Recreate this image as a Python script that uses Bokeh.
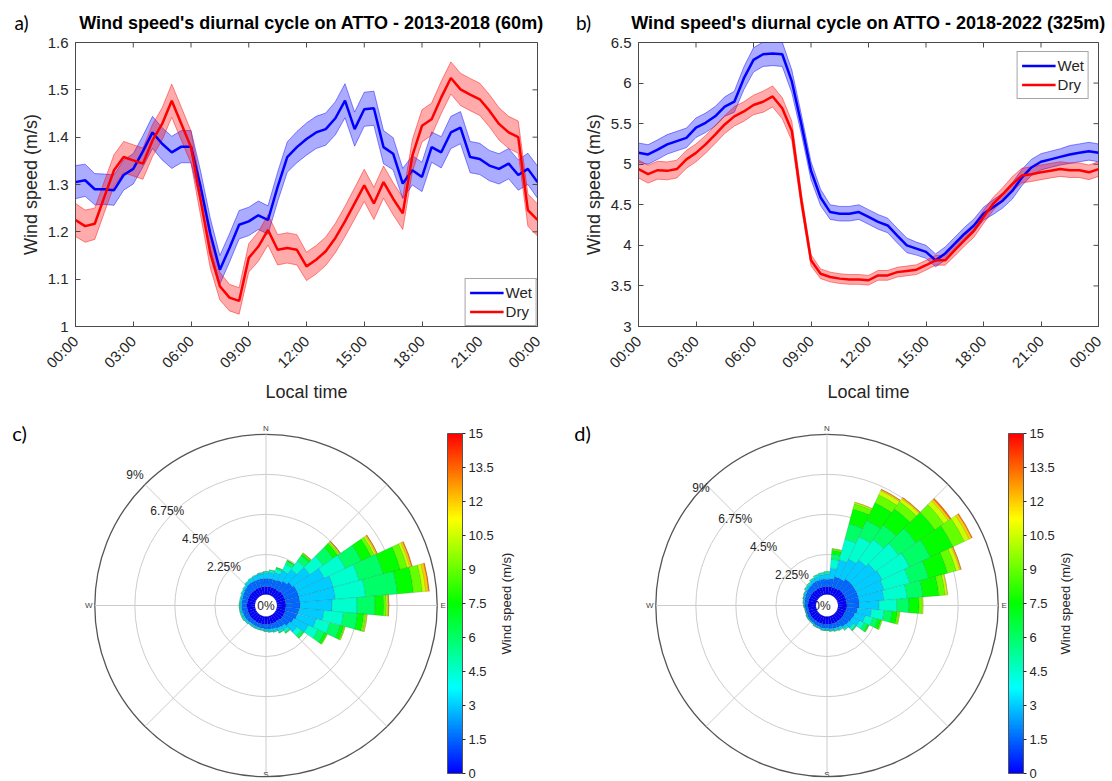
import math, colorsys
from bokeh.plotting import figure
from bokeh.models import (Range1d, FixedTicker, Label, Legend, LegendItem,
                          ColorBar, LinearColorMapper, ColumnDataSource)
from bokeh.layouts import column, row
from bokeh.embed import file_html
from bokeh.resources import INLINE

# ---------------- data ----------------
hours = [h * 0.5 for h in range(49)]          # 00:00 ... 24:00 every 30 min
time_ticks = [0, 3, 6, 9, 12, 15, 18, 21, 24]
time_labels = ["00:00", "03:00", "06:00", "09:00", "12:00", "15:00", "18:00", "21:00", "00:00"]

wet_a = [1.305, 1.309, 1.290, 1.290, 1.288, 1.320, 1.333,
         1.370, 1.410, 1.386, 1.368, 1.380, 1.380, 1.295,
         1.197, 1.120, 1.166, 1.215, 1.222, 1.235, 1.225,
         1.295, 1.358, 1.379, 1.396, 1.410, 1.417, 1.440,
         1.477, 1.417, 1.459, 1.461, 1.379, 1.365, 1.302,
         1.330, 1.316, 1.379, 1.368, 1.410, 1.420, 1.358,
         1.354, 1.340, 1.333, 1.344, 1.320, 1.333, 1.305]
wet_a_err = [0.035, 0.034, 0.033, 0.032, 0.032, 0.032, 0.032,
             0.033, 0.034, 0.034, 0.034, 0.034, 0.034, 0.033,
             0.032, 0.030, 0.030, 0.030, 0.030, 0.030, 0.030,
             0.031, 0.032, 0.033, 0.034, 0.034, 0.034, 0.035,
             0.036, 0.036, 0.036, 0.036, 0.035, 0.034, 0.032,
             0.031, 0.031, 0.032, 0.033, 0.034, 0.034, 0.033,
             0.033, 0.032, 0.032, 0.032, 0.032, 0.033, 0.034]
dry_a = [1.225, 1.212, 1.217, 1.274, 1.330, 1.358, 1.351,
         1.344, 1.393, 1.428, 1.477, 1.428, 1.379, 1.267,
         1.155, 1.085, 1.061, 1.054, 1.145, 1.169, 1.204,
         1.162, 1.166, 1.162, 1.127, 1.141, 1.159, 1.187,
         1.222, 1.260, 1.298, 1.260, 1.305, 1.270, 1.239,
         1.361, 1.424, 1.438, 1.484, 1.525, 1.501, 1.490,
         1.480, 1.456, 1.428, 1.410, 1.400, 1.246, 1.225]
dry_a_err = [0.035, 0.034, 0.033, 0.033, 0.033, 0.033, 0.033,
             0.033, 0.034, 0.034, 0.035, 0.035, 0.034, 0.033,
             0.031, 0.029, 0.028, 0.028, 0.030, 0.031, 0.032,
             0.032, 0.032, 0.032, 0.030, 0.030, 0.030, 0.031,
             0.032, 0.033, 0.034, 0.034, 0.034, 0.034, 0.034,
             0.034, 0.034, 0.034, 0.034, 0.034, 0.034, 0.034,
             0.034, 0.034, 0.034, 0.034, 0.034, 0.034, 0.034]

wet_b = [5.142, 5.120, 5.180, 5.245, 5.285, 5.325, 5.450,
         5.510, 5.590, 5.710, 5.770, 6.060, 6.285, 6.355,
         6.365, 6.355, 6.020, 5.490, 4.920, 4.590, 4.410,
         4.390, 4.390, 4.410, 4.350, 4.290, 4.245, 4.120,
         4.000, 3.960, 3.920, 3.815, 3.900, 4.020, 4.140,
         4.245, 4.390, 4.470, 4.550, 4.670, 4.835, 4.960,
         5.030, 5.060, 5.090, 5.120, 5.140, 5.160, 5.140]
wet_b_err = [0.12, 0.12, 0.12, 0.12, 0.12, 0.12, 0.12,
             0.12, 0.12, 0.12, 0.13, 0.14, 0.15, 0.15,
             0.15, 0.15, 0.14, 0.12, 0.11, 0.10, 0.09,
             0.09, 0.09, 0.09, 0.09, 0.09, 0.09, 0.09,
             0.09, 0.08, 0.08, 0.08, 0.08, 0.08, 0.08,
             0.08, 0.08, 0.09, 0.09, 0.10, 0.10, 0.10,
             0.10, 0.10, 0.10, 0.11, 0.11, 0.11, 0.11]
dry_b = [4.940, 4.877, 4.926, 4.918, 4.940, 5.060, 5.140,
         5.245, 5.366, 5.490, 5.590, 5.650, 5.730, 5.770,
         5.835, 5.690, 5.410, 4.550, 3.816, 3.650, 3.610,
         3.590, 3.580, 3.580, 3.570, 3.630, 3.630, 3.670,
         3.685, 3.700, 3.755, 3.816, 3.816, 3.940, 4.060,
         4.180, 4.350, 4.510, 4.630, 4.755, 4.860, 4.877,
         4.900, 4.920, 4.940, 4.926, 4.926, 4.900, 4.940]
dry_b_err = [0.11, 0.11, 0.11, 0.11, 0.11, 0.11, 0.11,
             0.11, 0.11, 0.11, 0.12, 0.12, 0.12, 0.13,
             0.13, 0.13, 0.12, 0.09, 0.07, 0.06, 0.06,
             0.06, 0.06, 0.06, 0.06, 0.06, 0.06, 0.06,
             0.06, 0.06, 0.06, 0.06, 0.06, 0.07, 0.07,
             0.08, 0.08, 0.08, 0.08, 0.09, 0.09, 0.09,
             0.09, 0.09, 0.09, 0.09, 0.09, 0.09, 0.09]

a_yticks = [1, 1.1, 1.2, 1.3, 1.4, 1.5, 1.6]
b_yticks = [3, 3.5, 4, 4.5, 5, 5.5, 6, 6.5]

# wind roses: frequency (%) per direction sector (rows) and speed bin (columns)
directions = [0, 10, 20, 30, 40, 50, 60, 70, 80, 90, 100, 110,
              120, 130, 140, 150, 160, 170, 180, 190, 200, 210, 220, 230,
              240, 250, 260, 270, 280, 290, 300, 310, 320, 330, 340, 350]
speed_edges = [0, 1.5, 3, 4.5, 6, 7.5, 9, 10.5, 12, 13.5, 15]

c_freq = [
    [0.45, 0.45, 0.30, 0.08, 0.02],
    [0.45, 0.45, 0.35, 0.12, 0.03],
    [0.45, 0.45, 0.40, 0.20, 0.08, 0.02],
    [0.45, 0.50, 0.60, 0.40, 0.18, 0.05, 0.02],
    [0.45, 0.60, 0.80, 0.60, 0.35, 0.12, 0.05, 0.02, 0.01],
    [0.50, 0.70, 1.20, 0.90, 0.70, 0.30, 0.10, 0.05, 0.03, 0.02],
    [0.50, 0.80, 1.70, 1.30, 1.00, 0.60, 0.20, 0.10, 0.07, 0.03],
    [0.50, 0.80, 2.00, 1.50, 1.40, 1.00, 0.40, 0.15, 0.10, 0.05],
    [0.50, 0.80, 2.00, 1.70, 1.80, 0.90, 0.50, 0.20, 0.15, 0.05],
    [0.50, 0.80, 1.80, 1.40, 1.00, 0.50, 0.15, 0.08, 0.05, 0.02],
    [0.50, 0.75, 1.40, 1.10, 0.80, 0.35, 0.12, 0.05, 0.03],
    [0.50, 0.70, 1.10, 0.80, 0.60, 0.20, 0.07, 0.03],
    [0.50, 0.60, 0.90, 0.60, 0.40, 0.15, 0.05],
    [0.50, 0.50, 0.50, 0.30, 0.15, 0.05],
    [0.45, 0.40, 0.25, 0.12, 0.06, 0.02],
    [0.45, 0.35, 0.18, 0.08, 0.03, 0.01],
    [0.45, 0.30, 0.13, 0.05, 0.02],
    [0.45, 0.27, 0.12, 0.05, 0.01],
    [0.45, 0.25, 0.10, 0.04, 0.01],
    [0.45, 0.22, 0.08, 0.04, 0.01],
    [0.45, 0.22, 0.08, 0.04, 0.01],
    [0.45, 0.22, 0.09, 0.03, 0.01],
    [0.45, 0.22, 0.09, 0.03, 0.01],
    [0.45, 0.25, 0.10, 0.04, 0.01],
    [0.45, 0.28, 0.10, 0.05, 0.02],
    [0.45, 0.28, 0.10, 0.05, 0.02],
    [0.45, 0.30, 0.09, 0.04, 0.02],
    [0.45, 0.30, 0.10, 0.04, 0.01],
    [0.45, 0.30, 0.10, 0.05],
    [0.45, 0.32, 0.09, 0.04],
    [0.45, 0.35, 0.10, 0.05],
    [0.45, 0.40, 0.10, 0.05],
    [0.45, 0.45, 0.15, 0.05],
    [0.45, 0.45, 0.20, 0.05],
    [0.45, 0.45, 0.25, 0.05],
    [0.45, 0.45, 0.28, 0.06, 0.01],
]

d_freq = [
    [0.45, 0.40, 0.30, 0.10, 0.05],
    [0.45, 0.45, 0.60, 0.50, 0.30, 0.20, 0.08, 0.02],
    [0.45, 0.60, 1.00, 1.20, 0.90, 0.85, 0.30, 0.08, 0.02],
    [0.45, 0.60, 1.20, 1.40, 1.00, 1.10, 0.50, 0.25, 0.07, 0.03],
    [0.50, 0.70, 1.30, 1.40, 1.00, 1.10, 0.50, 0.20, 0.07, 0.03],
    [0.50, 0.70, 1.50, 1.60, 1.20, 1.30, 0.60, 0.30, 0.12, 0.08],
    [0.50, 0.70, 1.60, 1.70, 1.30, 1.40, 0.70, 0.30, 0.15, 0.05],
    [0.50, 0.70, 1.50, 1.50, 1.10, 1.10, 0.50, 0.20, 0.07, 0.03],
    [0.50, 0.70, 1.40, 1.30, 0.90, 0.90, 0.35, 0.12, 0.03],
    [0.50, 0.70, 1.10, 1.00, 0.70, 0.55, 0.20, 0.05],
    [0.50, 0.60, 0.80, 0.70, 0.45, 0.30, 0.12, 0.03],
    [0.45, 0.55, 0.60, 0.45, 0.30, 0.18, 0.07],
    [0.45, 0.50, 0.45, 0.30, 0.20, 0.08, 0.02],
    [0.45, 0.45, 0.28, 0.14, 0.06, 0.02],
    [0.45, 0.40, 0.15, 0.07, 0.03],
    [0.45, 0.30, 0.12, 0.05, 0.03],
    [0.45, 0.28, 0.10, 0.05, 0.02],
    [0.45, 0.25, 0.10, 0.04, 0.01],
    [0.45, 0.22, 0.09, 0.03, 0.01],
    [0.45, 0.22, 0.09, 0.03, 0.01],
    [0.45, 0.20, 0.07, 0.02, 0.01],
    [0.45, 0.20, 0.07, 0.02, 0.01],
    [0.45, 0.17, 0.05, 0.02, 0.01],
    [0.45, 0.17, 0.05, 0.02, 0.01],
    [0.45, 0.17, 0.05, 0.02, 0.01],
    [0.45, 0.14, 0.04, 0.01, 0.01],
    [0.45, 0.14, 0.04, 0.01, 0.01],
    [0.45, 0.17, 0.05, 0.02, 0.01],
    [0.45, 0.20, 0.07, 0.02, 0.01],
    [0.45, 0.24, 0.08, 0.02, 0.01],
    [0.45, 0.27, 0.09, 0.03, 0.01],
    [0.45, 0.32, 0.12, 0.05, 0.01],
    [0.45, 0.35, 0.13, 0.06, 0.01],
    [0.45, 0.40, 0.17, 0.07, 0.01],
    [0.45, 0.42, 0.22, 0.09, 0.02],
    [0.45, 0.43, 0.25, 0.10, 0.02],
]

ring_pct = [2.25, 4.5, 6.75, 9]
ring_labels = ["2.25%", "4.5%", "6.75%", "9%"]
cbar_ticks = [0, 1.5, 3, 4.5, 6, 7.5, 9, 10.5, 12, 13.5, 15]

# ---------------- style ----------------
FONT = "Liberation Sans"
TAGFONT = "Lato"
AX = "#262626"
AXLINE = "#4a4a4a"
BLUE = "#0000ff"
RED = "#ff0000"
GRID = "#cccccc"
HEAD_H, MAIN_H, ROSE_H = 33, 372, 375

jet = []
for i in range(256):
    r, g, b = colorsys.hsv_to_rgb((240 - 240 * i / 255) / 360, 1, 1)
    jet.append("#%02x%02x%02x" % (round(r * 255), round(g * 255), round(b * 255)))
bin_colors = [jet[int(round(v / 15 * 255))] for v in speed_edges[:-1]]


def style_axis(ax, ticks, labels):
    ax.ticker = FixedTicker(ticks=ticks)
    ax.major_label_overrides = {t: l for t, l in zip(ticks, labels)}
    ax.major_tick_in = 5
    ax.major_tick_out = 0
    ax.minor_tick_line_color = None
    ax.axis_line_color = AXLINE
    ax.major_tick_line_color = AXLINE
    ax.major_label_text_font = FONT
    ax.major_label_text_font_size = "15px"
    ax.major_label_text_color = AX
    ax.axis_label_text_font = FONT
    ax.axis_label_text_font_size = "18px"
    ax.axis_label_text_font_style = "normal"
    ax.axis_label_text_color = AX


def header(width, tag, tag_x, title, title_x):
    p = figure(width=width, height=HEAD_H, output_backend="svg", toolbar_location=None, title=None,
               x_range=Range1d(0, width), y_range=Range1d(0, HEAD_H),
               x_axis_location=None, y_axis_location=None, min_border=0,
               outline_line_color=None, background_fill_color="white", border_fill_color="white")
    p.grid.visible = False
    p.add_layout(Label(x=tag_x, y=HEAD_H - 22, text=tag, text_align="center", text_baseline="middle",
                       text_font=TAGFONT, text_font_size="19px", text_color="#000000"))
    p.add_layout(Label(x=title_x, y=HEAD_H - 22, text=title, text_align="center",
                       text_baseline="middle", text_font=FONT, text_font_style="bold",
                       text_font_size="18px", text_color="#000000"))
    return p


def ts_panel(wet, wet_err, dry, dry_err, yticks, width, ml, mr, leg_loc, leg_margin):
    MT = 42 - HEAD_H
    MB = 78
    p = figure(width=width, height=MAIN_H, output_backend="svg", toolbar_location=None, title=None,
               x_range=Range1d(0, 24), y_range=Range1d(yticks[0], yticks[-1]),
               min_border_left=ml, min_border_right=mr, min_border_top=MT, min_border_bottom=MB,
               background_fill_color="white", border_fill_color="white")
    p.grid.visible = False
    p.outline_line_color = AXLINE

    src = ColumnDataSource(dict(
        t=hours, wet=wet, dry=dry,
        wet_lo=[v - e for v, e in zip(wet, wet_err)], wet_hi=[v + e for v, e in zip(wet, wet_err)],
        dry_lo=[v - e for v, e in zip(dry, dry_err)], dry_hi=[v + e for v, e in zip(dry, dry_err)]))
    for key, col in (("wet", BLUE), ("dry", RED)):
        p.varea(x="t", y1=key + "_lo", y2=key + "_hi", source=src, fill_color=col, fill_alpha=0.33)
        p.line("t", key + "_lo", source=src, line_color=col, line_alpha=0.45, line_width=1)
        p.line("t", key + "_hi", source=src, line_color=col, line_alpha=0.45, line_width=1)
    r_wet = p.line("t", "wet", source=src, line_color=BLUE, line_width=2.5)
    r_dry = p.line("t", "dry", source=src, line_color=RED, line_width=2.5)

    # inward ticks on the top and right edges of the box
    p.scatter(x=time_ticks, y=[yticks[-1]] * len(time_ticks), marker="dash", size=10,
              angle=math.pi / 2, line_color=AXLINE, line_width=1)
    p.scatter(x=[24] * len(yticks), y=yticks, marker="dash", size=10, line_color=AXLINE, line_width=1)

    xa = p.xaxis[0]
    style_axis(xa, time_ticks, time_labels)
    xa.major_label_orientation = math.pi / 4
    xa.major_label_standoff = 12
    xa.axis_label = "Local time"
    xa.axis_label_standoff = 2
    ya = p.yaxis[0]
    style_axis(ya, yticks, ["%g" % v for v in yticks])
    ya.major_label_standoff = 7
    ya.axis_label = "Wind speed (m/s)"
    ya.axis_label_standoff = 4

    leg = Legend(items=[LegendItem(label="Wet", renderers=[r_wet]),
                        LegendItem(label="Dry", renderers=[r_dry])],
                 location=leg_loc, margin=leg_margin, padding=4, spacing=0,
                 glyph_width=34, glyph_height=19, label_standoff=2, label_height=19,
                 label_text_font=FONT, label_text_font_size="15px", label_text_color=AX,
                 border_line_color=AXLINE, border_line_width=1,
                 background_fill_color="white", background_fill_alpha=1)
    p.add_layout(leg)
    return p


def rose_panel(tag, freq, width, cx, cy, cbar_left, cbar_top, cbar_label_x,
               lab_shift, outer_shift, zero_shift, zero_under):
    W, H = width, ROSE_H
    s = 17.8                      # px per percent
    r0 = 11 / s                   # radius of the empty centre
    p = figure(width=W, height=H, output_backend="svg", toolbar_location=None, title=None,
               x_range=Range1d(-cx / s, (W - cx) / s), y_range=Range1d(-(H - cy) / s, cy / s),
               x_axis_location=None, y_axis_location=None, min_border=0,
               outline_line_color=None, background_fill_color="white", border_fill_color="white")
    p.grid.visible = False
    rout = r0 + ring_pct[-1]

    # polar grid
    p.circle(x=[0] * 3, y=[0] * 3, radius=[r0 + v for v in ring_pct[:-1]],
             fill_color=None, line_color=GRID, line_width=1)
    p.circle(x=[0], y=[0], radius=[rout], fill_color=None, line_color="#555555", line_width=1.3)
    angs = [math.radians(a) for a in range(0, 360, 45)]
    p.segment(x0=[r0 * math.sin(a) for a in angs], y0=[r0 * math.cos(a) for a in angs],
              x1=[rout * math.sin(a) for a in angs], y1=[rout * math.cos(a) for a in angs],
              line_color=GRID, line_width=1)

    if zero_under:
        p.add_layout(Label(x=zero_shift / s, y=0, text="0%", text_align="center",
                           text_baseline="middle", text_font=FONT, text_font_size="12px",
                           text_color=AX, level="underlay"))

    # stacked sectors
    half = (directions[1] - directions[0]) / 2
    ri, ro, a0, a1, cols = [], [], [], [], []
    for bdir, fr in zip(directions, freq):
        cum = 0.0
        for k, f in enumerate(fr):
            if f <= 0:
                continue
            ri.append(r0 + cum)
            cum += f
            ro.append(r0 + cum)
            a0.append(math.radians(90 - bdir - half))
            a1.append(math.radians(90 - bdir + half))
            cols.append(bin_colors[k])
    src = ColumnDataSource(dict(ri=ri, ro=ro, a0=a0, a1=a1, c=cols))
    p.annular_wedge(x=0, y=0, inner_radius="ri", outer_radius="ro", start_angle="a0",
                    end_angle="a1", fill_color="c", line_color="#000000", line_alpha=0.22,
                    line_width=0.5, source=src)

    # labels
    if not zero_under:
        p.add_layout(Label(x=zero_shift / s, y=0, text="0%", text_align="center",
                           text_baseline="middle", text_font=FONT, text_font_size="12px",
                           text_color=AX))
    for v, lab in zip(ring_pct, ring_labels):
        R = (r0 + v) * s
        dx = -R * 0.7071 + lab_shift[0]
        dy = -R * 0.7071 + lab_shift[1]
        if v == ring_pct[-1]:
            dx += outer_shift[0]
            dy += outer_shift[1]
        p.add_layout(Label(x=dx / s, y=-dy / s, text=lab, text_align="center",
                           text_baseline="middle", text_font=FONT, text_font_size="12px",
                           text_color=AX))
    off = (rout * s + 6) / s
    for txt, x, y in (("N", 0, off), ("E", off, 0), ("S", 0, -(H - cy - 6) / s), ("W", -off, 0)):
        p.add_layout(Label(x=x, y=y, text=txt, text_align="center", text_baseline="middle",
                           text_font=FONT, text_font_size="8px", text_color="#444444"))
    p.add_layout(Label(x=(tag[1] - cx) / s, y=(cy - 27) / s, text=tag[0], text_align="center",
                       text_baseline="middle", text_font=TAGFONT, text_font_size="20px",
                       text_color="#000000"))

    # colour bar
    cb_h = 340
    mapper = LinearColorMapper(palette=jet, low=0, high=15)
    cb = ColorBar(color_mapper=mapper, ticker=FixedTicker(ticks=cbar_ticks),
                  major_label_overrides={t: "%g" % t for t in cbar_ticks},
                  orientation="vertical", width=15, height=cb_h,
                  location=(cbar_left, H - cbar_top - cb_h),
                  padding=0, margin=0, major_tick_out=3, major_tick_in=0,
                  major_tick_line_color=AX, minor_tick_line_color=None,
                  bar_line_color="#555555", bar_line_width=1, border_line_color=None,
                  background_fill_color=None, label_standoff=3,
                  major_label_text_font=FONT, major_label_text_font_size="13px",
                  major_label_text_color=AX)
    p.add_layout(cb)
    p.add_layout(Label(x=(cbar_label_x - cx) / s, y=(cy - 198) / s, angle=math.pi / 2,
                       text="Wind speed (m/s)", text_align="center", text_baseline="middle",
                       text_font=FONT, text_font_size="13px", text_color=AX))
    return p


WL, WR = 556, 554
ha = header(WL, "a)", 21, "Wind speed's diurnal cycle on ATTO - 2013-2018 (60m)", 311)
hb = header(WR, "b)", 27, "Wind speed's diurnal cycle on ATTO - 2018-2022 (325m)", 312)
pa = ts_panel(wet_a, wet_a_err, dry_a, dry_a_err, a_yticks, WL, 75, 19, "bottom_right", 0)
pb = ts_panel(wet_b, wet_b_err, dry_b, dry_b_err, b_yticks, WR, 82, 12, "top_right", 9)
pc = rose_panel(("c)", 19), c_freq, WL, 265.5, 200, 447, 28, 506, (-6, -2), (-4, -7), 0, False)
pd = rose_panel(("d)", 26), d_freq, WR, 270.5, 200, 452, 28, 509, (1, 6), (-6, -2), -5, True)

layout = column(row(ha, hb), row(pa, pb), row(pc, pd))
open("out.html", "w").write(file_html(layout, INLINE))
